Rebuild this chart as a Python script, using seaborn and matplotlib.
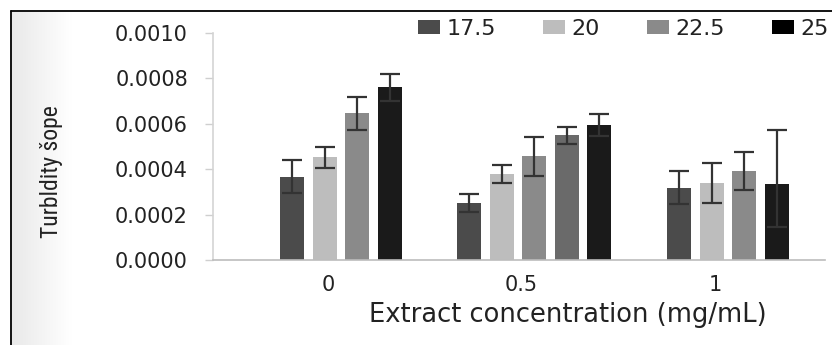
import numpy as np
import pandas as pd
import matplotlib
matplotlib.use("Agg")
import matplotlib.pyplot as plt
from matplotlib.patches import Patch
from matplotlib.lines import Line2D
import seaborn as sns

# ---- data -------------------------------------------------------------
concentrations = ["0", "0.5", "1"]
legend_labels = ["17.5", "20", "22.5", "25"]
series_keys = ["17.5", "20", "22.5", "unnamed", "25"]
series_colors = ["#4b4b4b", "#bdbdbd", "#8a8a8a", "#6a6a6a", "#1a1a1a"]

bar_group = ["0", "0", "0", "0",
             "0.5", "0.5", "0.5", "0.5", "0.5",
             "1", "1", "1", "1"]
bar_series = ["17.5", "20", "22.5", "25",
              "17.5", "20", "22.5", "unnamed", "25",
              "17.5", "20", "22.5", "25"]
bar_value = [0.000367, 0.000452, 0.000646, 0.000760,
             0.000250, 0.000379, 0.000458, 0.000549, 0.000595,
             0.000319, 0.000338, 0.000393, 0.000333]
err_low = [0.000073, 0.000047, 0.000075, 0.000059,
           0.000040, 0.000040, 0.000086, 0.000038, 0.000047,
           0.000073, 0.000086, 0.000084, 0.000186]
err_high = [0.000073, 0.000047, 0.000071, 0.000059,
            0.000040, 0.000040, 0.000084, 0.000038, 0.000047,
            0.000073, 0.000088, 0.000084, 0.000240]

y_ticks = [0.0, 0.0002, 0.0004, 0.0006, 0.0008, 0.0010]
y_tick_labels = ["0.0000", "0.0002", "0.0004", "0.0006", "0.0008", "0.0010"]

# ---- layout of clustered bars ------------------------------------------
group_step = 5.95          # distance between cluster centres, in bar slots
df = pd.DataFrame({"group": bar_group, "series": bar_series,
                   "value": bar_value, "lo": err_low, "hi": err_high})
pos = []
for g, name in enumerate(concentrations):
    n = (df["group"] == name).sum()
    pos.extend(g * group_step + np.arange(n) - (n - 1) / 2)
df["pos"] = pos

sns.set_theme(style="white")
plt.rcParams["font.family"] = ["DejaVu Sans"]

W, H = 832, 345
fig = plt.figure(figsize=(W / 100, H / 100), dpi=100)
fig.patch.set_facecolor("white")

# soft grey shading along the left edge of the frame
bg = fig.add_axes([12 / W, 0, 60 / W, 1 - 12 / H], zorder=0)
grad = np.linspace(0.0, 1.0, 256)[None, :]
bg.imshow(grad, aspect="auto", cmap=matplotlib.colors.LinearSegmentedColormap.from_list(
    "edge", ["#e9e9e9", "#ffffff"]), extent=[0, 1, 0, 1])
bg.axis("off")

ax = fig.add_axes([213 / W, 1 - 260 / H, (825 - 213) / W, (260 - 33) / H], zorder=1)
ax.set_facecolor("none")

palette = dict(zip(series_keys, series_colors))
sns.barplot(data=df, x="pos", y="value", hue="series", hue_order=series_keys,
            palette=palette, native_scale=True, dodge=False, width=0.74,
            errorbar=None, legend=False, linewidth=0, saturation=1, ax=ax)
ax.errorbar(df["pos"], df["value"], yerr=[df["lo"], df["hi"]], fmt="none",
            ecolor="#333333", elinewidth=1.6, capsize=7.5, capthick=1.6, zorder=5)

ax.set_xlim(-3.94, 14.89)
ax.set_ylim(0, 0.0010)
ax.set_yticks(y_ticks)
ax.set_yticklabels(y_tick_labels, fontsize=15, color="#222222")
ax.set_xticks([g * group_step - 0.4 for g in range(len(concentrations))])
ax.set_xticklabels(concentrations, fontsize=15, color="#222222")
ax.tick_params(axis="y", length=6, width=1, color="#cfcfcf", pad=12, left=True)
ax.tick_params(axis="x", length=0, pad=11)

for side in ("top", "right"):
    ax.spines[side].set_visible(False)
ax.spines["left"].set_color("#d4d4d4")
ax.spines["left"].set_linewidth(1.2)
ax.spines["bottom"].set_color("#bcbcbc")
ax.spines["bottom"].set_linewidth(1.2)

ax.set_xlabel("Extract concentration (mg/mL)", fontsize=18.5, color="#222222")
ax.xaxis.set_label_coords(0.58, -0.185)
ax.set_ylabel("Turbldity šope", fontsize=17, color="#222222",
              family=["Roboto Condensed", "Roboto", "DejaVu Sans"])
ax.yaxis.set_label_coords(-0.245, 0.39)

handles = [Patch(facecolor=palette[k], edgecolor="none") for k in ["17.5", "20", "22.5"]]
handles.append(Patch(facecolor="#000000", edgecolor="none"))
fig.legend(handles, legend_labels, ncol=4, loc="center right",
           bbox_to_anchor=(829 / W, 1 - 29 / H), frameon=False, fontsize=16,
           handlelength=1.0, handleheight=0.55, handletextpad=0.3,
           columnspacing=2.1, borderpad=0, borderaxespad=0, labelcolor="#222222")

# frame lines along the top and left edges
fig.add_artist(Line2D([11 / W, 1], [1 - 11 / H, 1 - 11 / H], transform=fig.transFigure,
                      color="black", lw=1.3))
fig.add_artist(Line2D([11 / W, 11 / W], [0, 1 - 11 / H], transform=fig.transFigure,
                      color="black", lw=1.3))

fig.savefig("out.png", dpi=100, facecolor="white")
